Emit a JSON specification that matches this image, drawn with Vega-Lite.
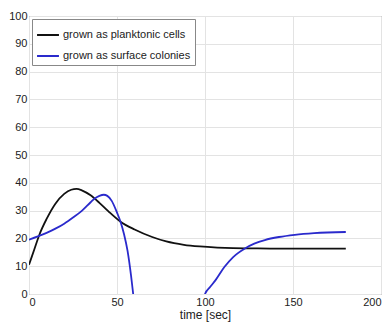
{
  "$schema": "https://vega.github.io/schema/vega-lite/v6.json",
  "width": 352,
  "height": 278,
  "autosize": "none",
  "padding": {"left": 29, "top": 16, "right": 8, "bottom": 28},
  "background": "white",
  "config": {
    "view": {"stroke": "#777", "strokeWidth": 1},
    "font": "Liberation Sans"
  },
  "data": {
    "values": [
      {"t": 0, "v": 10.5, "s": "grown as planktonic cells", "seg": "a"},
      {"t": 3, "v": 16, "s": "grown as planktonic cells", "seg": "a"},
      {"t": 6, "v": 21.5, "s": "grown as planktonic cells", "seg": "a"},
      {"t": 10, "v": 27, "s": "grown as planktonic cells", "seg": "a"},
      {"t": 15, "v": 32.5, "s": "grown as planktonic cells", "seg": "a"},
      {"t": 20, "v": 36, "s": "grown as planktonic cells", "seg": "a"},
      {"t": 24, "v": 37.5, "s": "grown as planktonic cells", "seg": "a"},
      {"t": 27, "v": 37.8, "s": "grown as planktonic cells", "seg": "a"},
      {"t": 30, "v": 37.3, "s": "grown as planktonic cells", "seg": "a"},
      {"t": 35, "v": 35.5, "s": "grown as planktonic cells", "seg": "a"},
      {"t": 40, "v": 32.8, "s": "grown as planktonic cells", "seg": "a"},
      {"t": 45, "v": 29.8, "s": "grown as planktonic cells", "seg": "a"},
      {"t": 52, "v": 26, "s": "grown as planktonic cells", "seg": "a"},
      {"t": 60, "v": 23.2, "s": "grown as planktonic cells", "seg": "a"},
      {"t": 70, "v": 20.5, "s": "grown as planktonic cells", "seg": "a"},
      {"t": 78, "v": 18.9, "s": "grown as planktonic cells", "seg": "a"},
      {"t": 88, "v": 17.7, "s": "grown as planktonic cells", "seg": "a"},
      {"t": 97, "v": 17.1, "s": "grown as planktonic cells", "seg": "a"},
      {"t": 107, "v": 16.7, "s": "grown as planktonic cells", "seg": "a"},
      {"t": 116, "v": 16.5, "s": "grown as planktonic cells", "seg": "a"},
      {"t": 130, "v": 16.4, "s": "grown as planktonic cells", "seg": "a"},
      {"t": 150, "v": 16.3, "s": "grown as planktonic cells", "seg": "a"},
      {"t": 180, "v": 16.3, "s": "grown as planktonic cells", "seg": "a"},
      {"t": 0, "v": 19.5, "s": "grown as surface colonies", "seg": "b"},
      {"t": 5, "v": 20.7, "s": "grown as surface colonies", "seg": "b"},
      {"t": 10, "v": 22, "s": "grown as surface colonies", "seg": "b"},
      {"t": 15, "v": 23.5, "s": "grown as surface colonies", "seg": "b"},
      {"t": 20, "v": 25.3, "s": "grown as surface colonies", "seg": "b"},
      {"t": 25, "v": 27.5, "s": "grown as surface colonies", "seg": "b"},
      {"t": 30, "v": 29.9, "s": "grown as surface colonies", "seg": "b"},
      {"t": 35, "v": 33, "s": "grown as surface colonies", "seg": "b"},
      {"t": 37, "v": 34.2, "s": "grown as surface colonies", "seg": "b"},
      {"t": 40, "v": 35.3, "s": "grown as surface colonies", "seg": "b"},
      {"t": 42.5, "v": 35.7, "s": "grown as surface colonies", "seg": "b"},
      {"t": 44.5, "v": 35.3, "s": "grown as surface colonies", "seg": "b"},
      {"t": 47, "v": 33.5, "s": "grown as surface colonies", "seg": "b"},
      {"t": 50, "v": 29.3, "s": "grown as surface colonies", "seg": "b"},
      {"t": 52, "v": 26, "s": "grown as surface colonies", "seg": "b"},
      {"t": 54, "v": 21.5, "s": "grown as surface colonies", "seg": "b"},
      {"t": 56, "v": 15.5, "s": "grown as surface colonies", "seg": "b"},
      {"t": 58, "v": 6.5, "s": "grown as surface colonies", "seg": "b"},
      {"t": 59.2, "v": 0, "s": "grown as surface colonies", "seg": "b"},
      {"t": 59.8, "v": -3, "s": "grown as surface colonies", "seg": "b"},
      {"t": 99.6, "v": -0.7, "s": "grown as surface colonies", "seg": "c"},
      {"t": 100, "v": 0, "s": "grown as surface colonies", "seg": "c"},
      {"t": 103, "v": 2.6, "s": "grown as surface colonies", "seg": "c"},
      {"t": 106, "v": 5, "s": "grown as surface colonies", "seg": "c"},
      {"t": 111, "v": 9.7, "s": "grown as surface colonies", "seg": "c"},
      {"t": 116, "v": 13.3, "s": "grown as surface colonies", "seg": "c"},
      {"t": 122.7, "v": 16.4, "s": "grown as surface colonies", "seg": "c"},
      {"t": 128, "v": 18.1, "s": "grown as surface colonies", "seg": "c"},
      {"t": 134, "v": 19.4, "s": "grown as surface colonies", "seg": "c"},
      {"t": 142, "v": 20.5, "s": "grown as surface colonies", "seg": "c"},
      {"t": 151, "v": 21.3, "s": "grown as surface colonies", "seg": "c"},
      {"t": 162, "v": 21.9, "s": "grown as surface colonies", "seg": "c"},
      {"t": 180, "v": 22.3, "s": "grown as surface colonies", "seg": "c"}
    ]
  },
  "mark": {"type": "line", "clip": true, "strokeWidth": 1.8, "interpolate": "monotone"},
  "encoding": {
    "x": {
      "field": "t", "type": "quantitative",
      "scale": {"domain": [0, 200], "nice": false},
      "axis": {
        "values": [0, 50, 100, 150, 200],
        "title": "time [sec]",
        "titleFontSize": 12, "titleFontWeight": "normal", "titleColor": "#222",
        "titlePadding": 2,
        "labelFontSize": 11, "labelColor": "#222", "labelPadding": 2,
        "domain": false, "ticks": false,
        "gridColor": "#e3e3e3", "gridWidth": 1
      }
    },
    "y": {
      "field": "v", "type": "quantitative",
      "scale": {"domain": [0, 100], "nice": false},
      "axis": {
        "values": [0, 10, 20, 30, 40, 50, 60, 70, 80, 90, 100],
        "title": null,
        "labelFontSize": 11, "labelColor": "#222", "labelPadding": 2,
        "domain": false, "ticks": false,
        "gridColor": "#e3e3e3", "gridWidth": 1
      }
    },
    "color": {
      "field": "s", "type": "nominal",
      "scale": {"domain": ["grown as planktonic cells", "grown as surface colonies"], "range": ["#111111", "#2a2acc"]},
      "legend": {
        "title": null,
        "orient": "top-left",
        "offset": 3,
        "symbolType": "stroke",
        "symbolSize": 480,
        "symbolStrokeWidth": 2,
        "labelFontSize": 11,
        "labelOffset": 3,
        "labelColor": "#222",
        "rowPadding": 4,
        "padding": 4,
        "fillColor": "white",
        "strokeColor": "#888"
      }
    },
    "detail": {"field": "seg", "type": "nominal"}
  }
}
